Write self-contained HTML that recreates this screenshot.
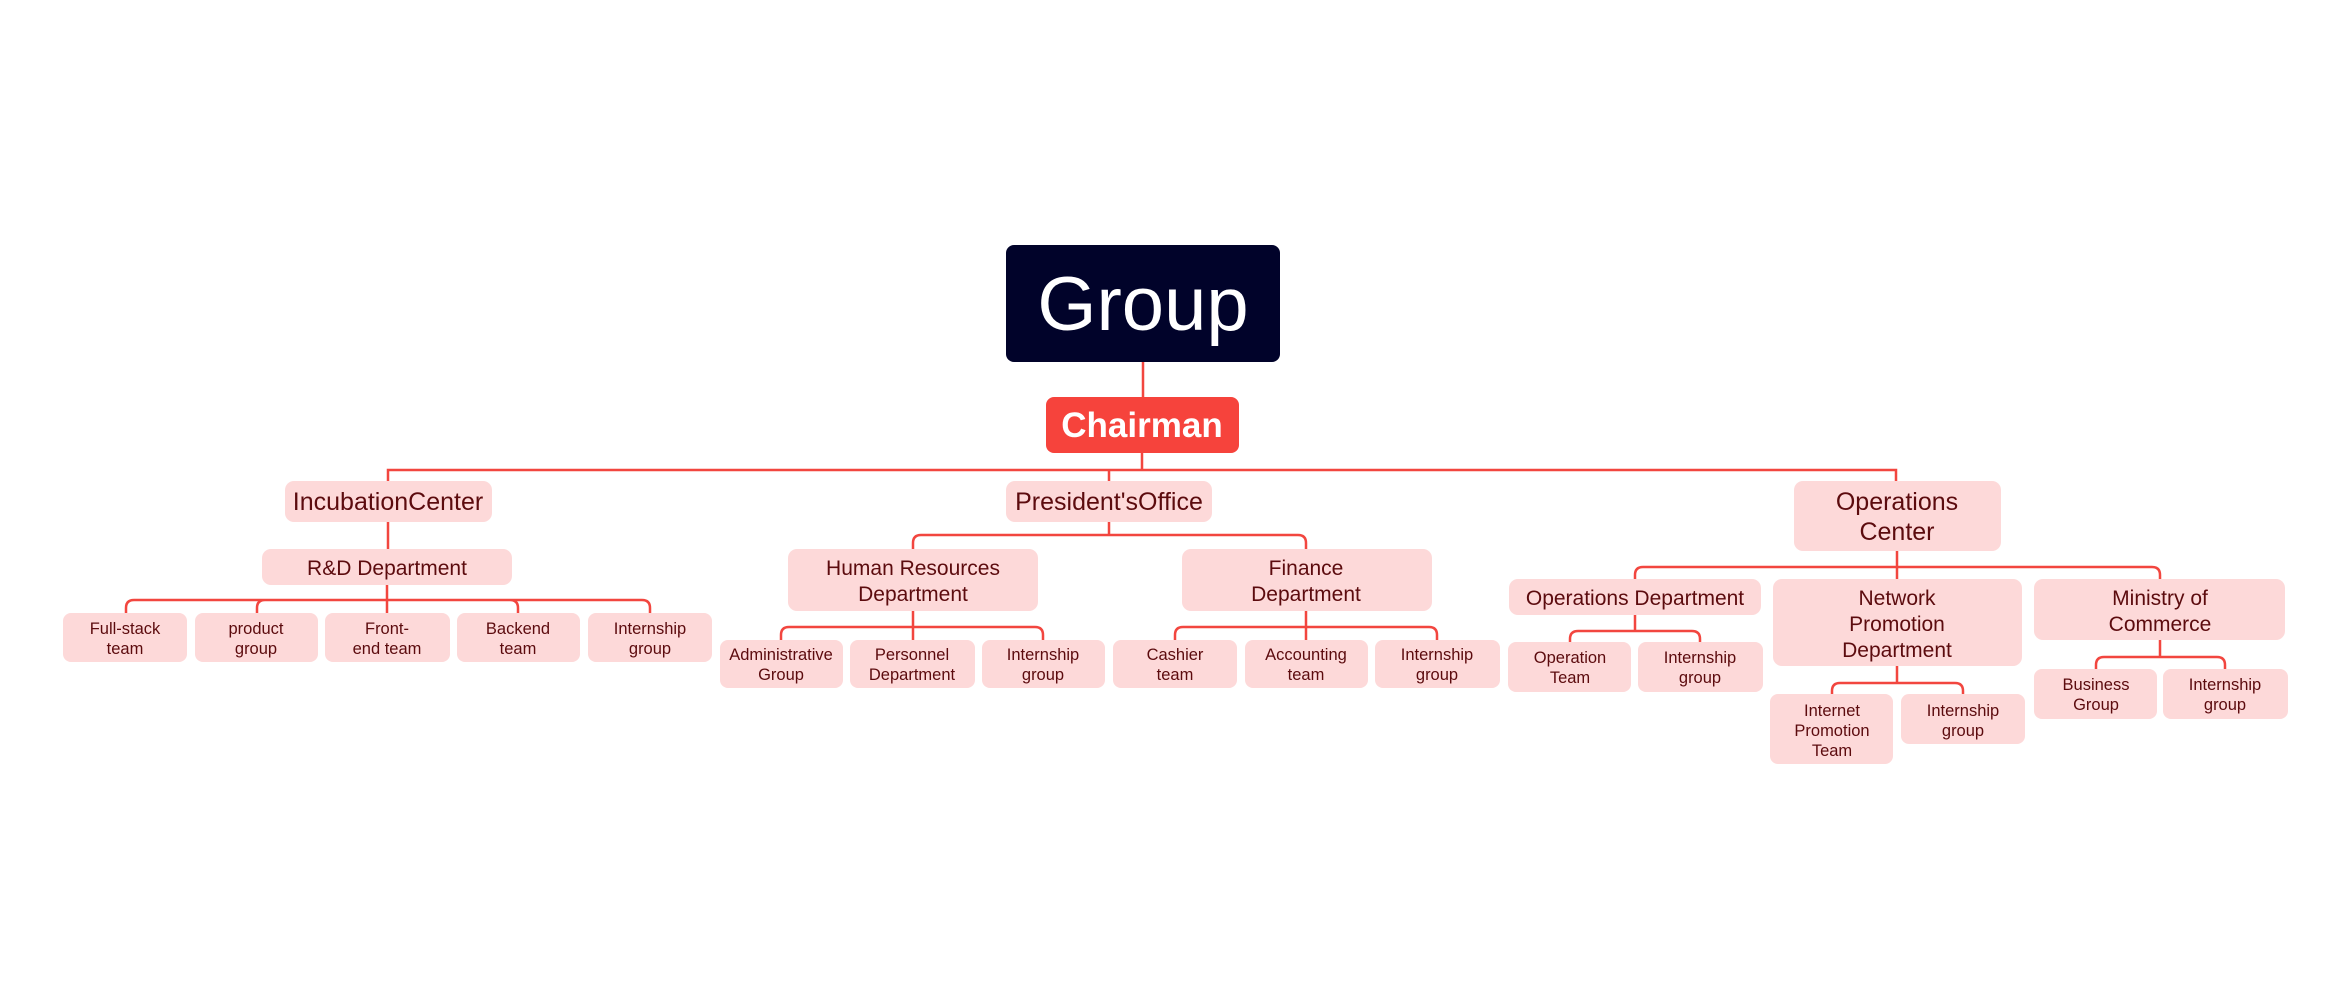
<!DOCTYPE html>
<html><head><meta charset="utf-8"><style>
html,body{margin:0;padding:0;background:#fff;}
svg{display:block;}
text{font-family:"Liberation Sans",sans-serif;fill:#5c0b0e;text-anchor:middle;}
.n{fill:#fdd9d9;}
.l{fill:none;stroke:#f2463f;stroke-width:2.5;}
</style></head><body>
<svg width="2351" height="990" viewBox="0 0 2351 990" xmlns="http://www.w3.org/2000/svg">
<!-- connectors -->
<path class="l" d="M1143 362V397 M1142 453V470 M388 481V470H1896V481 M1109 470V481"/>
<path class="l" d="M388 522V549"/>
<path class="l" d="M387 585V613 M126 613V608Q126 600 134 600H642Q650 600 650 608V613 M257 613V608Q257 600 265 600 M518 613V608Q518 600 510 600"/>
<path class="l" d="M1109 522V535 M913 549V543Q913 535 921 535H1298Q1306 535 1306 543V549"/>
<path class="l" d="M913 611V640 M781 640V635Q781 627 789 627H1035Q1043 627 1043 635V640"/>
<path class="l" d="M1306 611V640 M1175 640V635Q1175 627 1183 627H1429Q1437 627 1437 635V640"/>
<path class="l" d="M1897 551V579 M1635 579V575Q1635 567 1643 567H2152Q2160 567 2160 575V579"/>
<path class="l" d="M1635 615V631 M1570 642V639Q1570 631 1578 631H1692Q1700 631 1700 639V642"/>
<path class="l" d="M1897 666V683 M1832 694V691Q1832 683 1840 683H1955Q1963 683 1963 691V694"/>
<path class="l" d="M2160 640V657 M2096 669V665Q2096 657 2104 657H2217Q2225 657 2225 665V669"/>

<!-- root -->
<rect x="1006" y="245" width="274" height="117" rx="8" fill="#01032a"/>
<text x="1143" y="330" style="fill:#fff;font-size:76px;">Group</text>
<rect x="1046" y="397" width="193" height="56" rx="8" fill="#f6433c"/>
<text x="1142" y="437" style="fill:#fff;font-size:35px;font-weight:bold;">Chairman</text>

<!-- level 1 -->
<rect class="n" x="285" y="481" width="207" height="41" rx="9"/>
<text x="388" y="510" style="font-size:25px;">IncubationCenter</text>
<rect class="n" x="1006" y="481" width="206" height="41" rx="9"/>
<text x="1109" y="510" style="font-size:25px;">President'sOffice</text>
<rect class="n" x="1794" y="481" width="207" height="70" rx="9"/>
<text x="1897" y="510" style="font-size:25px;">Operations</text>
<text x="1897" y="540" style="font-size:25px;">Center</text>

<!-- level 2 -->
<g style="font-size:21px;">
<rect class="n" x="262" y="549" width="250" height="36" rx="9"/>
<text x="387" y="575">R&amp;D Department</text>
<rect class="n" x="788" y="549" width="250" height="62" rx="9"/>
<text x="913" y="575">Human Resources</text><text x="913" y="601">Department</text>
<rect class="n" x="1182" y="549" width="250" height="62" rx="9"/>
<text x="1306" y="575">Finance</text><text x="1306" y="601">Department</text>
<rect class="n" x="1509" y="579" width="252" height="36" rx="9"/>
<text x="1635" y="605">Operations Department</text>
<rect class="n" x="1773" y="579" width="249" height="87" rx="9"/>
<text x="1897" y="605">Network</text><text x="1897" y="631">Promotion</text><text x="1897" y="657">Department</text>
<rect class="n" x="2034" y="579" width="251" height="61" rx="9"/>
<text x="2160" y="605">Ministry of</text><text x="2160" y="631">Commerce</text>
</g>

<!-- level 3 -->
<g style="font-size:16.5px;">
<rect class="n" x="63" y="613" width="124" height="49" rx="8"/><text x="125" y="634">Full-stack</text><text x="125" y="654">team</text>
<rect class="n" x="195" y="613" width="123" height="49" rx="8"/><text x="256" y="634">product</text><text x="256" y="654">group</text>
<rect class="n" x="325" y="613" width="125" height="49" rx="8"/><text x="387" y="634">Front-</text><text x="387" y="654">end team</text>
<rect class="n" x="457" y="613" width="123" height="49" rx="8"/><text x="518" y="634">Backend</text><text x="518" y="654">team</text>
<rect class="n" x="588" y="613" width="124" height="49" rx="8"/><text x="650" y="634">Internship</text><text x="650" y="654">group</text>

<rect class="n" x="720" y="640" width="123" height="48" rx="8"/><text x="781" y="660">Administrative</text><text x="781" y="680">Group</text>
<rect class="n" x="850" y="640" width="125" height="48" rx="8"/><text x="912" y="660">Personnel</text><text x="912" y="680">Department</text>
<rect class="n" x="982" y="640" width="123" height="48" rx="8"/><text x="1043" y="660">Internship</text><text x="1043" y="680">group</text>

<rect class="n" x="1113" y="640" width="124" height="48" rx="8"/><text x="1175" y="660">Cashier</text><text x="1175" y="680">team</text>
<rect class="n" x="1245" y="640" width="123" height="48" rx="8"/><text x="1306" y="660">Accounting</text><text x="1306" y="680">team</text>
<rect class="n" x="1375" y="640" width="125" height="48" rx="8"/><text x="1437" y="660">Internship</text><text x="1437" y="680">group</text>

<rect class="n" x="1508" y="642" width="123" height="50" rx="8"/><text x="1570" y="663">Operation</text><text x="1570" y="683">Team</text>
<rect class="n" x="1638" y="642" width="125" height="50" rx="8"/><text x="1700" y="663">Internship</text><text x="1700" y="683">group</text>

<rect class="n" x="1770" y="694" width="123" height="70" rx="8"/><text x="1832" y="716">Internet</text><text x="1832" y="736">Promotion</text><text x="1832" y="756">Team</text>
<rect class="n" x="1901" y="694" width="124" height="50" rx="8"/><text x="1963" y="716">Internship</text><text x="1963" y="736">group</text>

<rect class="n" x="2034" y="669" width="123" height="50" rx="8"/><text x="2096" y="690">Business</text><text x="2096" y="710">Group</text>
<rect class="n" x="2163" y="669" width="125" height="50" rx="8"/><text x="2225" y="690">Internship</text><text x="2225" y="710">group</text>
</g>
</svg>
</body></html>
